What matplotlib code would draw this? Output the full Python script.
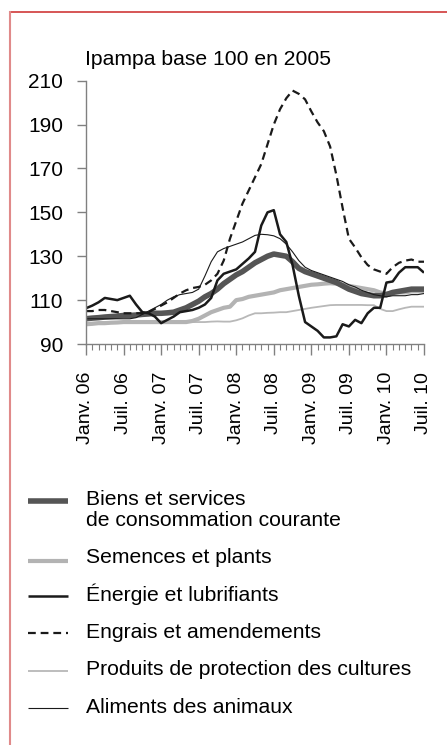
import matplotlib
matplotlib.use('Agg')
import matplotlib.pyplot as plt
from matplotlib.lines import Line2D

plt.rcParams['font.family'] = ['Liberation Sans', 'DejaVu Sans']

# Data: monthly index, Jan 06 .. Jul 10
months = list(range(55))
tick_pos = [0, 6, 12, 18, 24, 30, 36, 42, 48, 54]
tick_labels = ['Janv. 06', 'Juil. 06', 'Janv. 07', 'Juil. 07', 'Janv. 08',
               'Juil. 08', 'Janv. 09', 'Juil. 09', 'Janv. 10', 'Juil. 10']

biens = [101.5, 101.8, 102, 102.3, 102.5, 102.7, 103, 103, 103.2, 103.5,
         103.7, 104, 104, 104.2, 104.5, 105.5, 106.5, 108, 109.5, 111.5,
         113, 115, 117.5, 119.5, 121.5, 123, 125, 127, 128.5, 130,
         131, 130.5, 130, 127.5, 124.5, 123, 122, 121, 120, 119,
         118, 116.5, 115, 114, 113, 112.5, 112, 112, 112.5, 113.5,
         114, 114.5, 115, 115, 115]
semences = [99, 99.2, 99.5, 99.5, 99.7, 99.8, 100, 100, 100, 100,
            100, 100, 100, 100, 100, 100, 100, 100.5, 101.5, 103,
            104.5, 105.5, 106.5, 107, 110, 110.5, 111.5, 112, 112.5, 113,
            113.5, 114.5, 115, 115.5, 116, 116.5, 117, 117.2, 117.5, 117.7,
            117.5, 117, 116.5, 116, 115.5, 115, 114.5, 113.5, 113, 113.5,
            113.5, 113.5, 114, 114, 114]
energie = [106.3, 107.5, 109, 111, 110.5, 110, 111, 112, 108, 104.5,
           104, 102.5, 99.5, 101, 102.5, 104.5, 105, 105.5, 106.5, 108,
           111, 119, 122, 123, 124, 126.5, 129, 132, 144, 150,
           151, 140, 136.5, 126, 112, 100, 98, 96, 93, 93,
           93.5, 99, 98, 101, 99.5, 104, 106.5, 106.5, 118, 118.5,
           122.5, 125, 125, 125, 122.5]
engrais = [105, 105, 105.5, 105.5, 105, 104.5, 104, 104, 104, 104,
           104.5, 106, 107.5, 109, 111, 113, 114.5, 115.5, 116, 117,
           119, 122, 128, 138, 146, 154, 160, 166, 172, 181,
           190, 197, 202, 205.5, 204, 201.5, 196, 191, 187, 180,
           167, 152, 138, 134, 129.5, 126, 124, 123, 122, 125,
           127, 128, 128.5, 127.5, 127.5]
produits = [99.5, 99.7, 99.8, 100, 100, 100, 100, 100, 100, 100,
            100, 100, 100, 100, 100, 100, 100, 100, 100, 100,
            100.2, 100.3, 100.2, 100.2, 100.8, 101.7, 103, 104, 104, 104.2,
            104.3, 104.5, 104.5, 105, 105.5, 106, 106.5, 106.9, 107.3, 107.7,
            107.8, 107.8, 107.8, 107.8, 107.8, 107.7, 107.7, 106, 105, 105,
            105.8, 106.5, 107, 107, 107]
aliments = [101.5, 101.5, 101.5, 101.5, 101.5, 101.5, 101.5, 101.5, 102, 103.5,
            105, 106.5, 108, 110, 111.5, 112.5, 113, 113.5, 115, 121,
            127.5, 132, 133.5, 134.5, 135.5, 136.5, 138, 139.5, 140, 139.8,
            139.3, 138, 135.5, 132, 128, 125, 123.5, 122.5, 121.5, 120.5,
            119.5, 118.5, 117, 116, 114.5, 113.5, 112.5, 112, 111.5, 112,
            112, 112, 112.5, 112.5, 113]

# series: label, data, style
series = [
    ('Produits de protection des cultures', produits, dict(color='#b8b8b8', lw=1.3)),
    ('Semences et plants', semences, dict(color='#b3b3b3', lw=3)),
    ('Biens et services\nde consommation courante', biens, dict(color='#555555', lw=4)),
    ('Aliments des animaux', aliments, dict(color='#1a1a1a', lw=0.8)),
    ('Engrais et amendements', engrais, dict(color='#1a1a1a', lw=1.6, dashes=(3.5, 2.2))),
    ('Énergie et lubrifiants', energie, dict(color='#1a1a1a', lw=1.8)),
]
legend_order = [2, 1, 5, 4, 0, 3]

W, H = 447, 745
fig = plt.figure(figsize=(W / 100, H / 100), dpi=100)
ax = fig.add_axes([86 / W, 1 - 344 / H, 338 / W, 263.3 / H])

for label, data, style in series:
    ax.plot(months, data, solid_capstyle='butt', **style)

ax.set_xlim(0, 54)
ax.set_ylim(90, 210)
ax.set_yticks(range(90, 211, 20))
ax.set_xticks(tick_pos)
ax.set_xticklabels(tick_labels, rotation=90)
ax.set_xticks(months, minor=True)

axis_col = '#808080'
for s in ['top', 'right']:
    ax.spines[s].set_visible(False)
for s in ['left', 'bottom']:
    ax.spines[s].set_color(axis_col)
    ax.spines[s].set_linewidth(1.0)
ax.tick_params(axis='y', length=6.5, width=1.0, color=axis_col, pad=10, labelsize=15)
ax.tick_params(axis='x', which='major', length=8, width=1.0, color=axis_col, pad=12, labelsize=14)
ax.tick_params(axis='x', which='minor', length=4.5, width=0.8, color=axis_col)
ax.tick_params(axis='y', which='minor', length=0)

fig.text(85 / W, 1 - 65 / H, 'Ipampa base 100 en 2005', fontsize=15.2, va='baseline', ha='left')

# legend drawn by hand (handle y, text baselines)
handle_y = [501, 560.7, 596, 632.7, 670.7, 708.3]
text_base = [[505, 526.5], [563.3], [601], [638.3], [675], [713.3]]
for i, hy, tb in zip(legend_order, handle_y, text_base):
    label, data, style = series[i]
    fig.add_artist(Line2D([28 / W, 68 / W], [1 - hy / H, 1 - hy / H],
                          transform=fig.transFigure, solid_capstyle='butt', **style))
    for line, yy in zip(label.split('\n'), tb):
        fig.text(86 / W, 1 - yy / H, line, fontsize=15.2, va='baseline', ha='left')

# red frame
fig.add_artist(Line2D([10 / W, 1], [1 - 12 / H, 1 - 12 / H], transform=fig.transFigure,
                      color='#d03838', lw=1.2))
fig.add_artist(Line2D([10 / W, 10 / W], [0, 1 - 12 / H], transform=fig.transFigure,
                      color='#e08a8a', lw=1.5))

fig.savefig('out.png', dpi=100)
